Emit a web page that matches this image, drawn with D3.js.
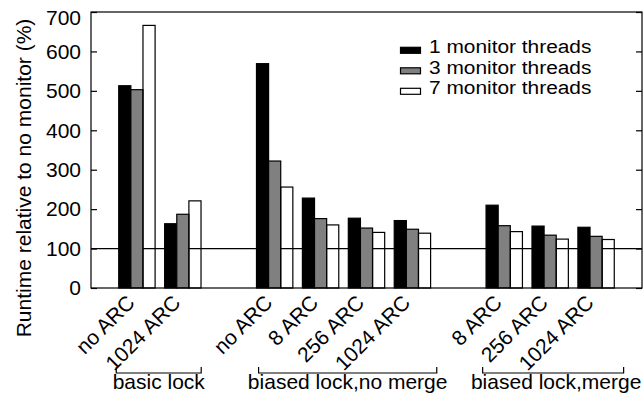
<!DOCTYPE html>
<html>
<head>
<meta charset="utf-8">
<script src="https://cdn.jsdelivr.net/npm/d3@7"></script>
<style>
  body { margin: 0; background: #fff; }
  svg text { font-family: "Liberation Sans", Arial, Helvetica, sans-serif; fill: #000; }
</style>
</head>
<body>
<div id="graph"></div>
<script>
// data
var categories = ["no ARC", "1024 ARC", "", "no ARC", "8 ARC", "256 ARC", "1024 ARC", "", "8 ARC", "256 ARC", "1024 ARC"];
var seriesNames = ["1 monitor threads", "3 monitor threads", "7 monitor threads"];
var oneThread = [513, 163, 0, 569, 228, 177, 171, 0, 210, 157, 154];
var threeThreads = [503, 187, 0, 322, 176, 152, 149, 0, 158, 134, 131];
var sevenThreads = [666, 221, 0, 256, 160, 141, 139, 0, 143, 124, 123];
var yTicks = [0, 100, 200, 300, 400, 500, 600, 700];
var groupLabels = ["basic lock", "biased lock,no merge", "biased lock,merge"];
var groupFrom = [-0.45, 2.65, 7.53];   // bracket ends, in category units
var groupTo = [1.4, 6.53, 10.6];
var referenceLine = 100;

(function() {
  "use strict";
  var width = 644, height = 393;
  var left = 91, right = 642, top = 12, bottom = 288;
  var series = [oneThread, threeThreads, sevenThreads];
  var fills = ["#000000", "#808080", "none"];
  var barW = 0.264;

  var x = d3.scaleLinear().domain([-1, categories.length]).range([left, right]);
  var y = d3.scaleLinear().domain([0, 700]).range([bottom, top]);

  var svg = d3.select("#graph").append("svg")
      .attr("width", width)
      .attr("height", height);

  // reference line at 100%, drawn under the bars (empty bars show it through)
  svg.append("line")
      .attr("x1", left).attr("x2", right)
      .attr("y1", y(referenceLine)).attr("y2", y(referenceLine))
      .attr("stroke", "#000").attr("stroke-width", 1.2);

  // bars
  series.forEach(function(vals, s) {
    svg.append("g").selectAll("rect")
        .data(vals)
        .enter().append("rect")
        .attr("x", function(d, i) { return x(i + (s - 1.5) * barW); })
        .attr("width", x(barW) - x(0))
        .attr("y", function(d) { return y(d); })
        .attr("height", function(d) { return y(0) - y(d); })
        .attr("fill", fills[s])
        .attr("stroke", "#000")
        .attr("stroke-width", 1.2);
  });

  // frame
  svg.append("rect")
      .attr("x", left).attr("y", top)
      .attr("width", right - left).attr("height", bottom - top)
      .attr("fill", "none").attr("stroke", "#000").attr("stroke-width", 1.2);

  // y axis, left labels and mirrored ticks on the right
  var yAxis = d3.axisLeft(y).tickValues(yTicks).tickSize(-6).tickPadding(10);
  var gy = svg.append("g").attr("transform", "translate(" + left + ",0)").call(yAxis);
  gy.select(".domain").remove();
  gy.selectAll("line").attr("stroke-width", 1.2);
  gy.selectAll("text").style("font-size", "21px")
      .style("font-family", "'Liberation Sans', Arial, sans-serif")
      .attr("dy", function(d) { return d === 700 ? "0.6em" : "0.32em"; }); // top label kept inside

  var gyR = svg.append("g").attr("transform", "translate(" + right + ",0)")
      .call(d3.axisRight(y).tickValues(yTicks).tickSize(-6).tickFormat(""));
  gyR.select(".domain").remove();
  gyR.selectAll("line").attr("stroke-width", 1.2);

  svg.append("text")
      .attr("transform", "translate(30.5,178) rotate(-90)")
      .attr("text-anchor", "middle")
      .style("font-size", "21px")
      .text("Runtime relative to no monitor (%)");

  // rotated category labels
  svg.append("g").selectAll("text")
      .data(categories)
      .enter().append("text")
      .attr("transform", function(d, i) { return "translate(" + (x(i) - 1) + "," + (bottom + 16) + ") rotate(-45)"; })
      .attr("text-anchor", "end")
      .style("font-size", "21px")
      .text(function(d) { return d; });

  // group brackets
  groupLabels.forEach(function(label, g) {
    var x0 = x(groupFrom[g]), x1 = x(groupTo[g]), yb = 373;
    svg.append("path")
        .attr("d", "M" + x0 + "," + (yb - 6) + "V" + yb + "H" + x1 + "V" + (yb - 6))
        .attr("fill", "none").attr("stroke", "#000").attr("stroke-width", 1.2);
    svg.append("text")
        .attr("x", (x0 + x1) / 2 + (g === 2 ? 3 : 0)).attr("y", 388.5)
        .attr("text-anchor", "middle")
        .style("font-size", "21px")
        .text(label);
  });

  // legend
  var legend = svg.append("g").attr("transform", "translate(400,53.3)");
  seriesNames.forEach(function(name, s) {
    legend.append("rect")
        .attr("x", 0.5).attr("y", s * 20.5 - 6)
        .attr("width", 20).attr("height", 6)
        .attr("fill", fills[s] === "none" ? "#fff" : fills[s])
        .attr("stroke", "#000").attr("stroke-width", 1.2);
    legend.append("text")
        .attr("transform", "translate(29," + (s * 20.5) + ") scale(1.16,1)")
        .style("font-size", "18px")
        .text(name);
  });
})();
</script>
</body>
</html>
